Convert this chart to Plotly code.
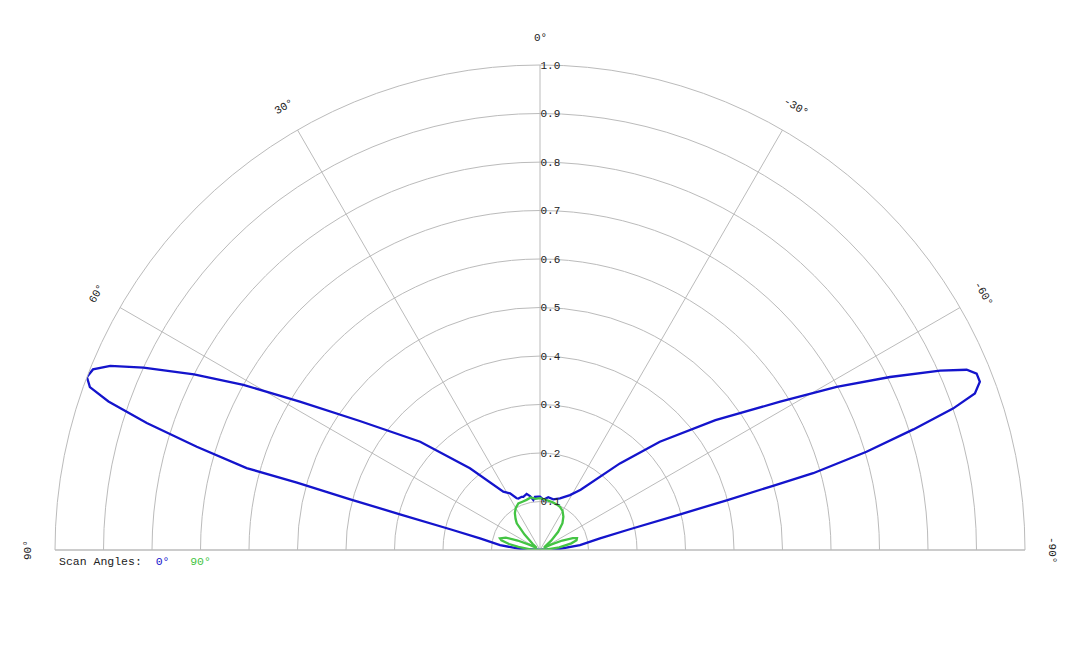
import math
import plotly.graph_objects as go

# scan 0 deg (blue) - angle in deg (positive = left), normalised gain
blue_theta = [-90, -87, -83, -79, -77, -75.7, -75.1, -74.6, -74.3, -73.25, -72.1, -71.1,
              -70.2, -69.07, -68.0, -67.1, -65.85, -63.7, -61.2, -58.3, -53.5, -47.9,
              -42.7, -34, -28.6, -21.2, -14.7, -8.9, -3.8, 0, 1.8, 5.4, 7.6, 10.5,
              13.4, 17.4, 19, 22.8, 24.3, 27.9, 32.2, 40.6, 47.9, 54.4, 58.3, 60.9,
              63.1, 65.3, 66.8, 68.0, 69.1, 70.1, 71.0, 72.1, 73.25, 74.4, 74.5,
              75.06, 75.7, 77.0, 79, 83, 87, 90]
blue_r = [0.0, 0.04, 0.083, 0.126, 0.19, 0.3, 0.4, 0.5, 0.585, 0.703, 0.809, 0.9,
          0.953, 0.971, 0.971, 0.955, 0.904, 0.805, 0.698, 0.582, 0.45, 0.333,
          0.243, 0.150, 0.129, 0.114, 0.108, 0.110, 0.104, 0.110, 0.110, 0.110, 0.104, 0.113,
          0.119, 0.115, 0.116, 0.115, 0.117, 0.132, 0.142, 0.222, 0.333, 0.457, 0.582, 0.700,
          0.800, 0.900, 0.964, 0.994, 1.0, 0.987, 0.941, 0.852, 0.739, 0.628, 0.52,
          0.405, 0.298, 0.19, 0.126, 0.083, 0.04, 0.0]

# scan 90 deg (green)
green_theta = [-90, -86, -82, -78, -75, -72.3, -70, -67, -64, -60, -55, -50, -45, -40,
               -35, -30, -24.8, -20, -15, -10, -5, 0, 5, 10, 15, 20, 24.9, 30, 34.3,
               38, 41, 45, 50, 55, 60, 64, 67, 70, 73.7, 76, 79, 82, 86, 90]
green_r = [0.0, 0.015, 0.04, 0.066, 0.078, 0.08, 0.072, 0.05, 0.025, 0.01, 0.012, 0.03,
           0.053, 0.072, 0.084, 0.093, 0.098, 0.1, 0.102, 0.103, 0.105, 0.107, 0.106,
           0.11, 0.107, 0.106, 0.106, 0.1, 0.092, 0.082, 0.073, 0.045, 0.02, 0.01, 0.01,
           0.025, 0.05, 0.075, 0.086, 0.082, 0.065, 0.045, 0.02, 0.0]

radial_ticks = [0.1, 0.2, 0.3, 0.4, 0.5, 0.6, 0.7, 0.8, 0.9, 1.0]
angle_ticks = [-90, -60, -30, 0, 30, 60, 90]

FONT = "Courier New, Liberation Mono, monospace"
BLUE = "#1414cc"
GREEN = "#44c444"
GRID = "#bbbbbb"

W, H = 1080, 648
OFF = 8  # page body margin
CX, CY, R = 540 - OFF, 550 - OFF, 485

fig = go.Figure()
fig.add_trace(go.Scatterpolar(theta=blue_theta, r=blue_r, mode="lines", name="0°",
                              line=dict(color=BLUE, width=2.3)))
fig.add_trace(go.Scatterpolar(theta=green_theta, r=green_r, mode="lines", name="90°",
                              line=dict(color=GREEN, width=2.3)))

# angle labels, rotated along the arc
annos = []
for a in angle_ticks:
    rad = math.radians(a)
    px = CX - 512 * math.sin(rad)
    py = CY - 512 * math.cos(rad)
    annos.append(dict(x=px / W, y=1 - py / H, xref="paper", yref="paper",
                      xanchor="center", yanchor="middle",
                      text=f"{a}°", showarrow=False, textangle=-a,
                      font=dict(family=FONT, size=11, color="#222")))

annos.append(dict(x=(57 - OFF) / W, y=1 - (561 - OFF) / H, xref="paper", yref="paper",
                  xanchor="left", yanchor="middle",
                  showarrow=False, font=dict(family=FONT, size=11.5, color="#222"),
                  text="Scan Angles:&nbsp;&nbsp;<span style='color:%s'>0°</span>"
                       "&nbsp;&nbsp;&nbsp;<span style='color:%s'>90°</span>" % (BLUE, GREEN)))

fig.update_layout(
    width=W, height=H,
    margin=dict(l=0, r=0, t=0, b=0),
    paper_bgcolor="white",
    showlegend=False,
    font=dict(family=FONT, size=11, color="#222"),
    annotations=annos,
    polar=dict(
        domain=dict(x=[(CX - R) / W, (CX + R) / W], y=[1 - CY / H, 1 - (CY - R) / H]),
        sector=[0, 180],
        bgcolor="white",
        radialaxis=dict(range=[0, 1], angle=90, tickangle=90, tickvals=radial_ticks,
                        ticktext=[f"{v:.1f}" for v in radial_ticks],
                        showline=False, ticks="", gridcolor=GRID, gridwidth=1,
                        tickfont=dict(family=FONT, size=11, color="#222")),
        angularaxis=dict(rotation=90, direction="counterclockwise",
                         tickvals=angle_ticks, showticklabels=False, ticks="",
                         showline=True, linecolor=GRID, linewidth=1,
                         gridcolor=GRID, gridwidth=1),
    ),
)

fig.write_html("out.html")
